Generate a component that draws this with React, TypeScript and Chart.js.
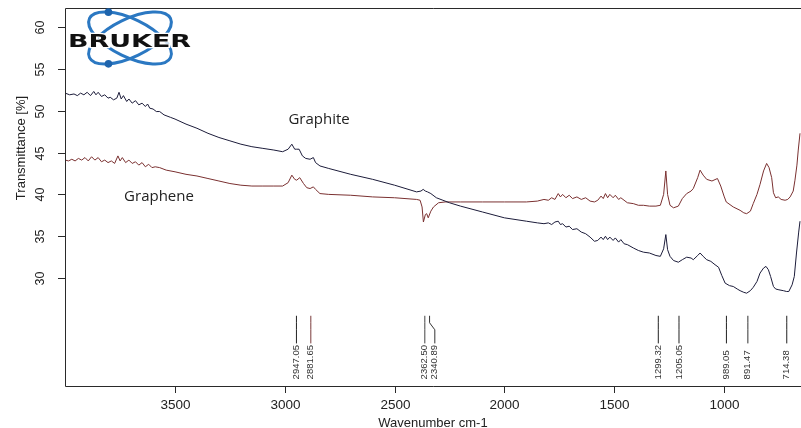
import { useEffect, useRef } from "react";
import { Chart, registerables } from "chart.js";
Chart.register(...registerables);

// ---- data ----
const graphiteWavenumbers = [
  4000, 3980, 3960, 3945, 3930, 3915, 3900, 3885, 3870, 3860, 3850, 3835, 3820, 3805, 3795, 3780, 3765, 3755, 3745, 3735,
  3720, 3710, 3695, 3680, 3665, 3650, 3635, 3625, 3615, 3600, 3585, 3570, 3550, 3520, 3500, 3450, 3400, 3350, 3300, 3250,
  3200, 3150, 3100, 3050, 3010, 2985, 2968, 2955, 2946, 2935, 2920, 2905, 2885, 2870, 2860, 2840, 2800, 2700, 2600, 2500,
  2400, 2380, 2370, 2360, 2350, 2335, 2310, 2280, 2250, 2200, 2100, 2000, 1900, 1850, 1820, 1800, 1785, 1770, 1755, 1745,
  1735, 1720, 1705, 1690, 1670, 1650, 1630, 1610, 1590, 1575, 1560, 1550, 1540, 1530, 1520, 1505, 1495, 1480, 1470, 1455,
  1440, 1413, 1390, 1367, 1340, 1310, 1290, 1275, 1265, 1257, 1246, 1230, 1208, 1190, 1170, 1150, 1140, 1120, 1109, 1095,
  1079, 1060, 1041, 1025, 1010, 995, 975, 958, 940, 927, 910, 897, 880, 867, 850, 836, 820, 809, 798, 788,
  775, 765, 750, 730, 715, 705, 690, 680, 670, 660, 654,
];
const graphiteValues = [
  52.1, 51.9, 52.0, 51.8, 52.1, 51.9, 52.2, 51.8, 52.3, 51.9, 52.2, 51.7, 51.9, 51.5, 51.6, 51.3, 51.5, 52.2, 51.4, 51.8,
  51.1, 51.4, 50.9, 51.2, 50.7, 50.9, 50.5, 50.8, 50.3, 50.2, 49.9, 49.9, 49.5, 49.2, 49.0, 48.4, 47.9, 47.3, 46.8, 46.4,
  46.0, 45.7, 45.5, 45.3, 45.1, 45.4, 46.0, 45.4, 45.4, 45.4, 44.6, 44.3, 44.2, 44.4, 43.8, 43.4, 43.1, 42.4, 41.8, 41.1,
  40.3, 40.4, 40.6, 40.4, 40.3, 40.1, 39.6, 39.3, 39.0, 38.6, 37.9, 37.2, 36.8, 36.6, 36.5, 36.6, 36.4, 36.7, 36.8, 36.4,
  36.5, 36.1, 36.2, 35.8, 35.9, 35.5, 35.3, 34.9, 34.4, 34.5, 34.9, 34.6, 35.0, 34.6, 34.9, 34.5, 34.8, 34.3, 34.6, 34.1,
  34.0, 33.6, 33.3, 33.1, 33.0, 32.7, 32.6, 33.5, 35.2, 33.4, 32.6, 32.1, 31.9, 32.2, 32.5, 32.4, 32.2, 32.7, 33.0, 32.6,
  32.2, 32.0, 31.6, 31.3, 30.3, 29.4, 29.1, 29.0, 28.7, 28.5, 28.3, 28.2, 28.5, 28.9, 29.6, 30.6, 31.2, 31.4, 31.0, 30.2,
  29.0, 28.7, 28.6, 28.5, 28.4, 28.4, 29.2, 30.2, 33.0, 35.5, 36.8,
];

const grapheneWavenumbers = [
  4000, 3985, 3970, 3955, 3940, 3925, 3910, 3895, 3880, 3865, 3850, 3835, 3820, 3805, 3790, 3775, 3760, 3750, 3740, 3725,
  3710, 3695, 3680, 3665, 3650, 3635, 3620, 3605, 3590, 3570, 3540, 3500, 3450, 3400, 3350, 3300, 3250, 3200, 3150, 3100,
  3050, 3010, 2985, 2968, 2955, 2946, 2932, 2915, 2900, 2885, 2870, 2860, 2840, 2800, 2700, 2600, 2500, 2400, 2384, 2375,
  2369, 2360, 2354, 2347, 2335, 2323, 2300, 2270, 2200, 2100, 2000, 1900, 1850, 1820, 1800, 1785, 1770, 1755, 1745, 1735,
  1720, 1705, 1690, 1670, 1650, 1630, 1610, 1590, 1575, 1560, 1550, 1540, 1530, 1520, 1505, 1495, 1480, 1470, 1440, 1413,
  1390, 1367, 1340, 1310, 1290, 1275, 1265, 1257, 1246, 1230, 1208, 1190, 1170, 1150, 1140, 1120, 1109, 1095, 1079, 1055,
  1030, 1015, 1000, 990, 958, 927, 910, 897, 880, 867, 850, 836, 820, 806, 795, 783, 775, 765, 753,
  740, 722, 710, 699, 685, 677, 668, 662, 654,
];
const grapheneValues = [
  44.1, 44.0, 44.2, 44.0, 44.3, 44.1, 44.4, 44.0, 44.5, 44.1, 44.4, 43.9, 44.1, 43.8, 44.0, 43.7, 44.6, 44.0, 44.4, 43.8,
  44.1, 43.7, 43.9, 43.5, 43.8, 43.3, 43.6, 43.2, 43.3, 43.2, 42.9, 42.7, 42.4, 42.2, 41.9, 41.6, 41.3, 41.1, 41.0, 41.0,
  41.0, 41.0, 41.4, 42.3, 41.8, 41.7, 42.0, 41.3, 40.8, 40.7, 40.9, 40.6, 40.1, 40.0, 39.9, 39.7, 39.6, 39.4, 39.3, 38.5,
  36.7, 37.6, 37.7, 37.2, 38.0, 38.5, 39.0, 39.1, 39.1, 39.1, 39.1, 39.1, 39.2, 39.4, 39.3, 39.6, 39.4, 40.1, 39.7, 40.0,
  39.6, 39.9, 39.5, 39.7, 39.4, 39.6, 39.2, 39.1, 39.3, 39.8, 39.5, 40.1, 39.6, 40.0, 39.6, 39.9, 39.4, 39.6, 39.0, 38.9,
  38.7, 38.7, 38.6, 38.6, 38.7, 40.0, 42.8, 40.0, 38.7, 38.4, 38.6, 39.5, 40.1, 40.4, 40.7, 42.0, 42.9, 42.3, 41.8, 41.6,
  41.9, 41.0, 39.8, 39.1, 38.5, 38.1, 37.8, 37.7, 38.0, 38.9, 40.0, 41.2, 42.8, 43.7, 43.2, 42.0, 40.2, 39.6, 39.7,
  39.4, 39.3, 39.4, 39.7, 40.4, 41.7, 43.5, 45.3, 47.3,
];

const seriesNames = ["Graphite", "Graphene"];
const peakWavenumbers = [2947.05, 2881.65, 2362.5, 2340.89, 1299.32, 1205.05, 989.05, 891.47, 714.38];
const peakLabels = ["2947.05", "2881.65", "2362.50", "2340.89", "1299.32", "1205.05", "989.05", "891.47", "714.38"];
const xTickValues = [3500, 3000, 2500, 2000, 1500, 1000];
const xTickLabels = ["3500", "3000", "2500", "2000", "1500", "1000"];
const yTickValues = [30, 35, 40, 45, 50, 55, 60];
const yTickLabels = ["30", "35", "40", "45", "50", "55", "60"];
const xTitle = "Wavenumber cm-1";
const yTitle = "Transmittance [%]";

// ---- styling / placement ----
const seriesColors = ["#1c1c3a", "#7a3030"];
const seriesLabelAt: [number, number][] = [
  [2844, 48.9],
  [3573, 39.7],
];
const peakLineColors = ["#222", "#7a3a3a", "#444", "#333", "#222", "#222", "#222", "#333", "#222"];
const SANS = '"Liberation Sans", Arial, Helvetica, sans-serif';

const decorPlugin = {
  id: "decor",
  afterDatasetsDraw(chart: any) {
    const ctx: CanvasRenderingContext2D = chart.ctx;
    const { left, right, top, bottom } = chart.chartArea;
    const xs = chart.scales.x;
    const ys = chart.scales.y;
    ctx.save();

    // axis box (left, top, bottom)
    ctx.strokeStyle = "#2a2a2a";
    ctx.lineWidth = 1;
    ctx.beginPath();
    ctx.moveTo(right, top + 0.5);
    ctx.lineTo(left + 0.5, top + 0.5);
    ctx.lineTo(left + 0.5, bottom + 0.5);
    ctx.lineTo(right, bottom + 0.5);
    ctx.stroke();

    // x ticks
    ctx.fillStyle = "#222";
    ctx.font = `13.5px ${SANS}`;
    ctx.textAlign = "center";
    ctx.textBaseline = "middle";
    xTickValues.forEach((v, i) => {
      const px = Math.round(xs.getPixelForValue(v)) + 0.5;
      ctx.beginPath();
      ctx.moveTo(px, bottom);
      ctx.lineTo(px, bottom + 7);
      ctx.stroke();
      ctx.fillText(xTickLabels[i], px, 405);
    });

    // y ticks
    ctx.font = `12.5px ${SANS}`;
    yTickValues.forEach((v, i) => {
      const py = Math.round(ys.getPixelForValue(v)) + 0.5;
      ctx.beginPath();
      ctx.moveTo(left - 7, py);
      ctx.lineTo(left, py);
      ctx.stroke();
      ctx.save();
      ctx.translate(41, py);
      ctx.rotate(-Math.PI / 2);
      ctx.fillText(yTickLabels[i], 0, 0);
      ctx.restore();
    });

    // axis titles
    ctx.font = `13px ${SANS}`;
    ctx.textBaseline = "alphabetic";
    ctx.fillText(xTitle, (left + right) / 2, 427);
    ctx.save();
    ctx.translate(25, 148);
    ctx.rotate(-Math.PI / 2);
    ctx.fillText(yTitle, 0, 0);
    ctx.restore();

    // peak markers
    const yTop = ys.getPixelForValue(25.5);
    const yK1 = yTop + 7;
    const yK2 = yTop + 14;
    const yBot = ys.getPixelForValue(22.2);
    const yText = ys.getPixelForValue(17.9);
    let prev = -Infinity;
    ctx.font = `9.5px ${SANS}`;
    ctx.textAlign = "left";
    ctx.textBaseline = "middle";
    peakWavenumbers.forEach((w, i) => {
      const px = xs.getPixelForValue(w);
      let lx = px;
      if (lx - prev < 10) lx = prev + 10;
      prev = lx;
      ctx.strokeStyle = peakLineColors[i];
      ctx.beginPath();
      ctx.moveTo(px, yTop);
      ctx.lineTo(px, yK1);
      ctx.lineTo(lx, yK2);
      ctx.lineTo(lx, yBot);
      ctx.stroke();
      ctx.save();
      ctx.translate(lx, yText);
      ctx.rotate(-Math.PI / 2);
      ctx.fillStyle = "#333";
      ctx.fillText(peakLabels[i], 0, 0);
      ctx.restore();
    });

    // series labels
    ctx.font = `15px "Open Sans", ${SANS}`;
    ctx.textAlign = "center";
    ctx.textBaseline = "middle";
    ctx.fillStyle = "#222";
    seriesNames.forEach((n, i) => {
      const [w, v] = seriesLabelAt[i];
      ctx.fillText(n, xs.getPixelForValue(w), ys.getPixelForValue(v));
    });

    // Bruker logo
    const cx = 130, cy = 38, a = 45, b = 19, phi = 0.45;
    ctx.lineWidth = 3;
    ctx.strokeStyle = "#2b78c2";
    [phi, -phi].forEach((p) => {
      ctx.beginPath();
      ctx.ellipse(cx, cy, a, b, p, 0, Math.PI * 2);
      ctx.stroke();
    });
    ctx.fillStyle = "#1e64ad";
    [
      [phi, -2.32],
      [-phi, 2.32],
    ].forEach(([p, t]) => {
      const ex = a * Math.cos(t), ey = b * Math.sin(t);
      const dx = cx + ex * Math.cos(p) - ey * Math.sin(p);
      const dy = cy + ex * Math.sin(p) + ey * Math.cos(p);
      ctx.beginPath();
      ctx.arc(dx, dy, 3.8, 0, Math.PI * 2);
      ctx.fill();
    });
    ctx.font = `bold 18px "DejaVu Sans", ${SANS}`;
    ctx.textAlign = "left";
    ctx.textBaseline = "alphabetic";
    const tw = ctx.measureText("BRUKER").width;
    ctx.save();
    ctx.translate(68, 46.5);
    ctx.scale(123 / tw, 1);
    ctx.lineWidth = 2.5;
    ctx.strokeStyle = "#ffffff";
    ctx.lineJoin = "round";
    ctx.strokeText("BRUKER", 0, 0);
    ctx.fillStyle = "#111";
    ctx.fillText("BRUKER", 0, 0);
    ctx.restore();

    ctx.restore();
  },
};

export default function App() {
  const ref = useRef<HTMLCanvasElement | null>(null);
  useEffect(() => {
    if (!ref.current) return;
    const chart = new Chart(ref.current, {
      type: "line",
      data: {
        datasets: [
          {
            label: seriesNames[0],
            data: graphiteWavenumbers.map((w, i) => ({ x: w, y: graphiteValues[i] })),
            borderColor: seriesColors[0],
            borderWidth: 1,
            pointRadius: 0,
            tension: 0,
          },
          {
            label: seriesNames[1],
            data: grapheneWavenumbers.map((w, i) => ({ x: w, y: grapheneValues[i] })),
            borderColor: seriesColors[1],
            borderWidth: 1,
            pointRadius: 0,
            tension: 0,
          },
        ],
      },
      options: {
        animation: false,
        responsive: false,
        devicePixelRatio: 1,
        layout: { padding: { top: 8, left: 0, right: 0, bottom: 0 } },
        plugins: { legend: { display: false }, tooltip: { enabled: false } },
        scales: {
          x: {
            type: "linear",
            reverse: true,
            min: 649.5,
            max: 4001,
            grid: { display: false },
            border: { display: false },
            ticks: { display: false },
            afterFit: (s: any) => {
              s.height = 42;
            },
          },
          y: {
            type: "linear",
            min: 17.11,
            max: 62.27,
            grid: { display: false },
            border: { display: false },
            ticks: { display: false },
            afterFit: (s: any) => {
              s.width = 65;
            },
          },
        },
      },
      plugins: [decorPlugin],
    });
    return () => chart.destroy();
  }, []);
  return (
    <div style={{ position: "fixed", left: 0, top: 0, width: 801, height: 428, background: "#fff" }}>
      <canvas ref={ref} width={801} height={428} style={{ display: "block", width: 801, height: 428 }} />
    </div>
  );
}
